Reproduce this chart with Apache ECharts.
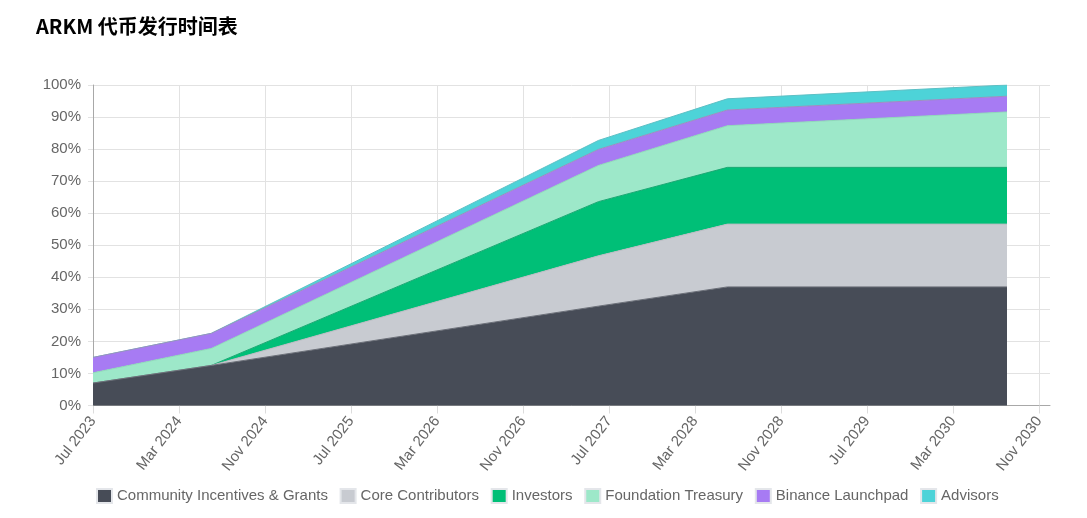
<!DOCTYPE html>
<html>
<head>
<meta charset="utf-8">
<style>
  html, body { margin: 0; padding: 0; background: #fff; }
  #main { width: 1087px; height: 518px; }
</style>
<script src="https://cdn.jsdelivr.net/npm/echarts@6/dist/echarts.min.js"></script>
</head>
<body>
<div id="main"></div>
<script>
var monthNames = ['Jan', 'Feb', 'Mar', 'Apr', 'May', 'Jun', 'Jul', 'Aug', 'Sep', 'Oct', 'Nov', 'Dec'];
var dates = ['Jul 2023', 'Jun 2024', 'Jun 2027', 'Jun 2028', 'Aug 2030'];

var community = [7, 12.5, 31, 37, 37];
var core = [0, 0, 15.7, 19.6, 19.6];
var investors = [0, 0, 16.9, 17.7, 17.7];
var treasury = [3.2, 5.3, 11.3, 13, 17.3];
var binance = [4.8, 4.7, 5, 4.9, 4.9];
var advisors = [0, 0, 2.8, 3.5, 3.5];

var seriesNames = ['Community Incentives & Grants', 'Core Contributors', 'Investors',
    'Foundation Treasury', 'Binance Launchpad', 'Advisors'];
var seriesValues = [community, core, investors, treasury, binance, advisors];
var fillColors = ['#474c57', '#c8cbd1', '#00bf77', '#9de8c9', '#a77bf3', '#4dd3d8'];
var edgeColors = ['#6b6f78', '#b9bcc2', '#1aa873', '#8fd8ba', '#9a8fc0', '#5cbfc4'];

// one category per month, Jul 2023 to Dec 2030
var categories = [];
for (var y = 2023; y <= 2030; y++) {
    for (var m = (y == 2023 ? 6 : 0); m < 12; m++) {
        categories.push(monthNames[m] + ' ' + y);
    }
}

var myChart = echarts.init(document.getElementById('main'));

var series = seriesNames.map(function (name, i) {
    return {
        name: name,
        type: 'line',
        stack: 'total',
        symbol: 'none',
        // lower bands on top, so empty bands do not show their edge
        z: 8 - i,
        lineStyle: { width: 1, color: edgeColors[i] },
        itemStyle: { color: fillColors[i], borderColor: '#e4e6ea', borderWidth: 2 },
        areaStyle: { color: fillColors[i], opacity: 1 },
        data: dates.map(function (d, j) {
            return [d, seriesValues[i][j]];
        })
    };
});

var everyEighth = function (index) {
    return index % 8 === 0;
};

var option = {
    animation: false,
    backgroundColor: '#fff',
    textStyle: { fontFamily: '"Liberation Sans", Arial, sans-serif' },
    title: {
        text: 'ARKM 代币发行时间表',
        left: 31,
        top: 11,
        textStyle: {
            fontFamily: '"Noto Sans CJK SC", "Noto Sans", sans-serif',
            fontSize: 20,
            fontWeight: 'bold',
            color: '#000'
        }
    },
    legend: {
        left: 91,
        top: 483,
        icon: 'rect',
        itemWidth: 15,
        itemHeight: 14,
        itemGap: 11.7,
        textStyle: {
            fontSize: 15,
            color: '#666'
        },
        data: seriesNames
    },
    grid: { left: 93, right: 37, top: 85, bottom: 112.5 },
    xAxis: {
        type: 'category',
        data: categories,
        boundaryGap: false,
        axisLine: { show: true, onZero: false, lineStyle: { color: '#a8a8a8' } },
        axisTick: { show: true, length: 8, interval: everyEighth, lineStyle: { color: '#dcdcdc' } },
        splitLine: { show: true, interval: everyEighth, lineStyle: { color: '#e2e2e2' } },
        axisLabel: {
            interval: everyEighth,
            rotate: 52,
            margin: 13,
            fontSize: 15,
            color: '#666'
        }
    },
    yAxis: {
        type: 'value',
        min: 0,
        max: 100,
        interval: 10,
        axisLine: { show: true, lineStyle: { color: '#a8a8a8' } },
        axisTick: { show: true, length: 5, lineStyle: { color: '#e2e2e2' } },
        splitLine: { show: true, lineStyle: { color: '#e2e2e2' } },
        axisLabel: {
            margin: 12,
            fontSize: 15,
            color: '#666',
            padding: [2, 0, 0, 0],
            formatter: '{value}%'
        }
    },
    series: series
};

myChart.setOption(option);
</script>
</body>
</html>
